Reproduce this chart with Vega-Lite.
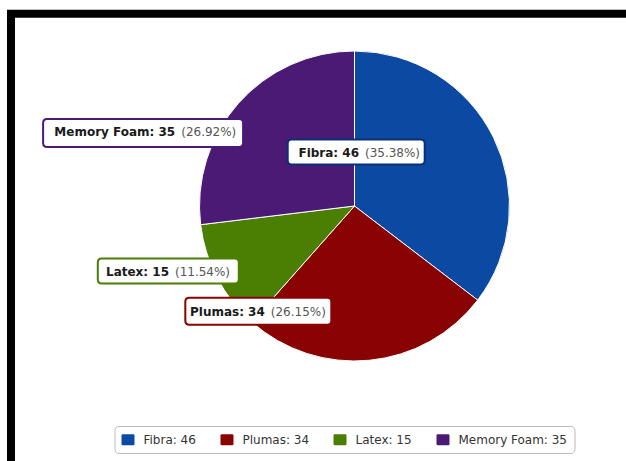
{
  "$schema": "https://vega.github.io/schema/vega-lite/v6.json",
  "background": "white",
  "padding": {"left": 5, "top": 7.8, "right": -74, "bottom": -9.2},
  "spacing": 0,
  "bounds": "flush",
  "datasets": {
    "colchones": [
      {"categoria": "Fibra", "valor": 46},
      {"categoria": "Plumas", "valor": 34},
      {"categoria": "Latex", "valor": 15},
      {"categoria": "Memory Foam", "valor": 35}
    ]
  },
  "vconcat": [
    {
      "width": 687,
      "height": 384.4,
      "view": {"stroke": "black", "strokeWidth": 8, "strokeCap": "square", "strokeDash": [687, 1071.4, 384.4, 10], "fill": "white"},
      "data": {"name": "colchones"},
      "transform": [
        {"window": [{"op": "row_number", "as": "rn"}]},
        {"joinaggregate": [{"op": "sum", "field": "valor", "as": "total"}]},
        {"calculate": "datum.categoria + ': ' + datum.valor", "as": "leyenda"},
        {"calculate": "'(' + format(datum.valor / datum.total, '.2%') + ')'", "as": "pct"}
      ],
      "layer": [
        {
          "mark": {"type": "arc", "outerRadius": 155, "stroke": "white", "strokeWidth": 1},
          "encoding": {
            "theta": {"field": "valor", "type": "quantitative", "stack": true},
            "order": {"field": "rn", "type": "quantitative"},
            "color": {
              "field": "leyenda",
              "type": "nominal",
              "sort": {"field": "rn", "op": "min"},
              "scale": {"range": ["#0b49a3", "#8a0303", "#4b7f04", "#4a1a74"]},
              "legend": {
                "title": null,
                "orient": "none",
                "legendX": 103.5,
                "legendY": 412.2,
                "direction": "horizontal",
                "columns": 4,
                "padding": 7,
                "strokeColor": "#bbbbbb",
                "fillColor": "white",
                "cornerRadius": 4,
                "labelFont": "DejaVu Sans",
                "labelFontSize": 12,
                "labelColor": "#333333",
                "labelOffset": 9,
                "columnPadding": 24,
                "symbolType": "M-1,-0.65Q-1,-0.85,-0.8,-0.85H0.8Q1,-0.85,1,-0.65V0.65Q1,0.85,0.8,0.85H-0.8Q-1,0.85,-1,0.65Z",
                "symbolSize": 169,
                "symbolStrokeWidth": 0,
                "symbolOpacity": 1
              }
            }
          }
        },
        {
          "transform": [{"filter": {"field": "categoria", "equal": "Memory Foam"}}],
          "mark": {"type": "point", "shape": "M-1,-0.1Q-1,-0.14,-0.96,-0.14H0.96Q1,-0.14,1,-0.1V0.1Q1,0.14,0.96,0.14H-0.96Q-1,0.14,-1,0.1Z", "size": 40000, "filled": true, "fill": "white", "stroke": "#4a1a74", "strokeWidth": 2, "opacity": 1, "xOffset": -211.4, "yOffset": -73},
          "encoding": {}
        },
        {
          "transform": [{"filter": {"field": "categoria", "equal": "Memory Foam"}}],
          "mark": {"type": "text", "align": "right", "baseline": "middle", "font": "DejaVu Sans", "fontWeight": "bold", "fontSize": 12, "color": "#1a1a1a", "xOffset": -179.3, "yOffset": -73.5},
          "encoding": {"text": {"field": "leyenda"}}
        },
        {
          "transform": [{"filter": {"field": "categoria", "equal": "Memory Foam"}}],
          "mark": {"type": "text", "align": "left", "baseline": "middle", "font": "DejaVu Sans", "fontSize": 12, "color": "#555555", "xOffset": -173.3, "yOffset": -73.5},
          "encoding": {"text": {"field": "pct"}}
        },
        {
          "transform": [{"filter": {"field": "categoria", "equal": "Fibra"}}],
          "mark": {"type": "point", "shape": "M-1,-0.1241Q-1,-0.1825,-0.9416,-0.1825H0.9416Q1,-0.1825,1,-0.1241V0.1241Q1,0.1825,0.9416,0.1825H-0.9416Q-1,0.1825,-1,0.1241Z", "size": 18769, "filled": true, "fill": "white", "stroke": "#0a2f78", "strokeWidth": 2, "opacity": 1, "xOffset": 1.7, "yOffset": -54},
          "encoding": {}
        },
        {
          "transform": [{"filter": {"field": "categoria", "equal": "Fibra"}}],
          "mark": {"type": "text", "align": "right", "baseline": "middle", "font": "DejaVu Sans", "fontWeight": "bold", "fontSize": 12, "color": "#1a1a1a", "xOffset": 4.5, "yOffset": -53},
          "encoding": {"text": {"field": "leyenda"}}
        },
        {
          "transform": [{"filter": {"field": "categoria", "equal": "Fibra"}}],
          "mark": {"type": "text", "align": "left", "baseline": "middle", "font": "DejaVu Sans", "fontSize": 12, "color": "#555555", "xOffset": 10.5, "yOffset": -53},
          "encoding": {"text": {"field": "pct"}}
        },
        {
          "transform": [{"filter": {"field": "categoria", "equal": "Latex"}}],
          "mark": {"type": "point", "shape": "M-1,-0.1206Q-1,-0.1773,-0.9433,-0.1773H0.9433Q1,-0.1773,1,-0.1206V0.1206Q1,0.1773,0.9433,0.1773H-0.9433Q-1,0.1773,-1,0.1206Z", "size": 19881, "filled": true, "fill": "white", "stroke": "#4b7f04", "strokeWidth": 2, "opacity": 1, "xOffset": -186.2, "yOffset": 65},
          "encoding": {}
        },
        {
          "transform": [{"filter": {"field": "categoria", "equal": "Latex"}}],
          "mark": {"type": "text", "align": "right", "baseline": "middle", "font": "DejaVu Sans", "fontWeight": "bold", "fontSize": 12, "color": "#1a1a1a", "xOffset": -185.5, "yOffset": 65.7},
          "encoding": {"text": {"field": "leyenda"}}
        },
        {
          "transform": [{"filter": {"field": "categoria", "equal": "Latex"}}],
          "mark": {"type": "text", "align": "left", "baseline": "middle", "font": "DejaVu Sans", "fontSize": 12, "color": "#555555", "xOffset": -179.5, "yOffset": 65.7},
          "encoding": {"text": {"field": "pct"}}
        },
        {
          "transform": [{"filter": {"field": "categoria", "equal": "Plumas"}}],
          "mark": {"type": "point", "shape": "M-1,-0.1301Q-1,-0.1849,-0.9452,-0.1849H0.9452Q1,-0.1849,1,-0.1301V0.1301Q1,0.1849,0.9452,0.1849H-0.9452Q-1,0.1849,-1,0.1301Z", "size": 21316, "filled": true, "fill": "white", "stroke": "#8a0303", "strokeWidth": 2, "opacity": 1, "xOffset": -96.2, "yOffset": 105.3},
          "encoding": {}
        },
        {
          "transform": [{"filter": {"field": "categoria", "equal": "Plumas"}}],
          "mark": {"type": "text", "align": "right", "baseline": "middle", "font": "DejaVu Sans", "fontWeight": "bold", "fontSize": 12, "color": "#1a1a1a", "xOffset": -89.7, "yOffset": 105.7},
          "encoding": {"text": {"field": "leyenda"}}
        },
        {
          "transform": [{"filter": {"field": "categoria", "equal": "Plumas"}}],
          "mark": {"type": "text", "align": "left", "baseline": "middle", "font": "DejaVu Sans", "fontSize": 12, "color": "#555555", "xOffset": -83.7, "yOffset": 105.7},
          "encoding": {"text": {"field": "pct"}}
        }
      ]
    },
    {
      "width": 687,
      "height": 70,
      "view": {"stroke": "black", "strokeWidth": 8, "strokeCap": "square", "strokeDash": [0, 1444, 70, 10]},
      "data": {"name": "colchones"},
      "mark": {"type": "text"},
      "encoding": {"text": {"value": ""}}
    }
  ]
}
